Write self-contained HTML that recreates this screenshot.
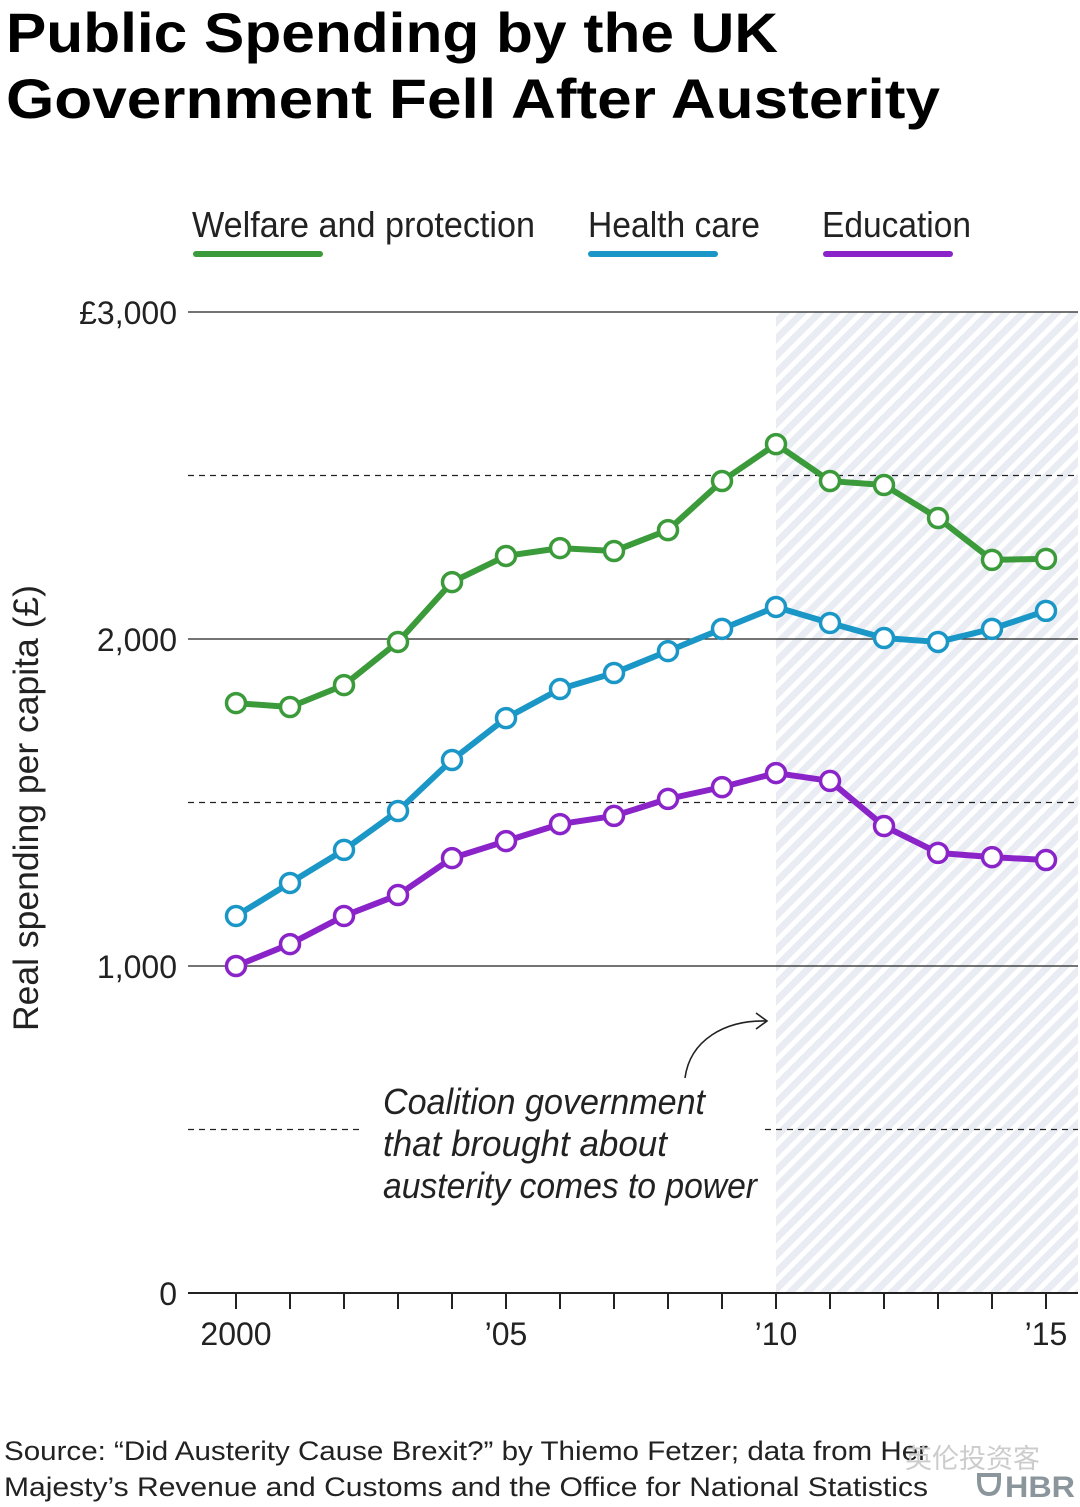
<!DOCTYPE html>
<html><head><meta charset="utf-8"><style>
html,body{margin:0;padding:0;background:#fff;}
svg{display:block;}
.cond{font-family:"Liberation Sans Narrow","Liberation Sans",sans-serif;}
</style></head><body>
<svg id="chart" width="1080" height="1507" viewBox="0 0 1080 1507" xmlns="http://www.w3.org/2000/svg" font-family="Liberation Sans, sans-serif">
<defs>
<pattern id="hatch" width="12" height="12" patternUnits="userSpaceOnUse" patternTransform="rotate(45)">
<rect width="12" height="12" fill="#e9edf3"/><rect width="5" height="12" fill="#fff"/>
</pattern>
</defs>
<text x="6" y="52" font-size="56" font-weight="bold" textLength="772" lengthAdjust="spacingAndGlyphs">Public Spending by the UK</text>
<text x="6" y="118" font-size="56" font-weight="bold" textLength="934" lengthAdjust="spacingAndGlyphs">Government Fell After Austerity</text>

<g>
<g>
<text class="cond" x="192" y="237" font-size="36" fill="#222" textLength="343" lengthAdjust="spacingAndGlyphs">Welfare and protection</text>
<rect x="193" y="251" width="130" height="6" rx="3" fill="#3b9a3a"/></g>
<g>
<text class="cond" x="588" y="237" font-size="36" fill="#222" textLength="172" lengthAdjust="spacingAndGlyphs">Health care</text>
<rect x="588" y="251" width="130" height="6" rx="3" fill="#1a97c6"/></g>
<g>
<text class="cond" x="822" y="237" font-size="36" fill="#222" textLength="149" lengthAdjust="spacingAndGlyphs">Education</text>
<rect x="823" y="251" width="130" height="6" rx="3" fill="#8a24c8"/></g>
</g>

<rect x="776" y="312" width="302" height="981" fill="url(#hatch)"/>
<g id="grid"></g>
<g id="axes"></g>

<text transform="translate(38,808) rotate(-90)" text-anchor="middle" font-size="35" fill="#222" textLength="446" lengthAdjust="spacingAndGlyphs">Real spending per capita (£)</text>

<g>
<text class="cond" font-style="italic" font-size="36" fill="#222" x="383" y="1114" textLength="322" lengthAdjust="spacingAndGlyphs">Coalition government</text>
<text class="cond" font-style="italic" font-size="36" fill="#222" x="383" y="1156" textLength="284" lengthAdjust="spacingAndGlyphs">that brought about</text>
<text class="cond" font-style="italic" font-size="36" fill="#222" x="383" y="1198" textLength="374" lengthAdjust="spacingAndGlyphs">austerity comes to power</text>
<path d="M685,1078 C690,1040 725,1020 766,1021" fill="none" stroke="#222" stroke-width="1.6"/>
<path d="M756,1013 L767,1021 L756,1029" fill="none" stroke="#222" stroke-width="1.6"/>
</g>
<g id="series"></g>

<text x="4" y="1460" font-size="27" fill="#222" textLength="924" lengthAdjust="spacingAndGlyphs">Source: “Did Austerity Cause Brexit?” by Thiemo Fetzer; data from Her</text>
<text x="4" y="1496" font-size="27" fill="#222" textLength="924" lengthAdjust="spacingAndGlyphs">Majesty’s Revenue and Customs and the Office for National Statistics</text>
<text x="905" y="1468" font-size="27" fill="#ccc" font-family="Noto Sans CJK SC, sans-serif">英伦投资客</text>
<g>
<path d="M979,1475 h20 v5 q0,14 -10,14 q-10,0 -10,-14 z" fill="none" stroke="#8a959c" stroke-width="4"/>
<text x="1005" y="1497" font-size="30" font-weight="bold" fill="#8a959c" textLength="70" lengthAdjust="spacingAndGlyphs">HBR</text>
</g>
</svg>
<script>
const years=[2000,2001,2002,2003,2004,2005,2006,2007,2008,2009,2010,2011,2012,2013,2014,2015];
const welfare=[1804,1792,1859,1991,2174,2254,2278,2269,2333,2483,2596,2483,2471,2370,2242,2245];
const health=[1153,1254,1355,1474,1630,1758,1847,1896,1963,2031,2098,2049,2003,1991,2031,2086];
const education=[1000,1067,1153,1217,1330,1382,1434,1459,1511,1547,1590,1566,1428,1346,1333,1324];
const yTicks=[0,1000,2000,3000];
const yTickLabels=["0","1,000","2,000","£3,000"];
const dashedVals=[500,1500,2500];
const xLabelYears=[2000,2005,2010,2015];
const xLabels=["2000","’05","’10","’15"];
const NS="http://www.w3.org/2000/svg";
const X=y=>236+(y-2000)*54;
const Y=v=>1293-v*0.327;
function mk(tag,attrs,parent){const e=document.createElementNS(NS,tag);for(const k in attrs)e.setAttribute(k,attrs[k]);parent.appendChild(e);return e;}
const grid=document.getElementById('grid'),axes=document.getElementById('axes'),series=document.getElementById('series');
yTicks.forEach((v,i)=>{
  const l=mk('line',{x1:188,x2:1078,y1:Y(v),y2:Y(v),stroke:'#222','stroke-width':v===0?2:1.3},grid);
  
  
  const t=mk('text',{x:177,y:Y(v)+12,'text-anchor':'end','font-size':32,fill:'#222'},axes);
  t.textContent=yTickLabels[i];
  
  
});
dashedVals.forEach(v=>{
  const segs=v===500?[[188,362],[765,1078]]:[[188,1078]];
  segs.forEach(s=>{
    const l=mk('line',{x1:s[0],x2:s[1],y1:Y(v),y2:Y(v),stroke:'#222','stroke-width':1.3,'stroke-dasharray':'6,5'},grid);
    
    
  });
});
years.forEach(y=>{
  const l=mk('line',{x1:X(y),x2:X(y),y1:1293,y2:1309,stroke:'#222','stroke-width':2},axes);
  
  
});
xLabelYears.forEach((y,i)=>{
  const t=mk('text',{x:X(y),y:1345,'text-anchor':'middle','font-size':32,fill:'#222'},axes);
  t.textContent=xLabels[i];
  
  
});
[[welfare,'#3b9a3a','welfare'],[health,'#1a97c6','health-care'],[education,'#8a24c8','education']].forEach(([d,c,n])=>{
  const g=mk('g',{},series);
  
  
  const p=mk('polyline',{points:d.map((v,i)=>X(years[i])+','+Y(v)).join(' '),fill:'none',stroke:c,'stroke-width':6,'stroke-linejoin':'round'},g);
  
  
  d.forEach((v,i)=>{
    const ci=mk('circle',{cx:X(years[i]),cy:Y(v),r:9.5,fill:'#fff',stroke:c,'stroke-width':3.5},g);
    
    
  });
});
</script>
</body></html>
